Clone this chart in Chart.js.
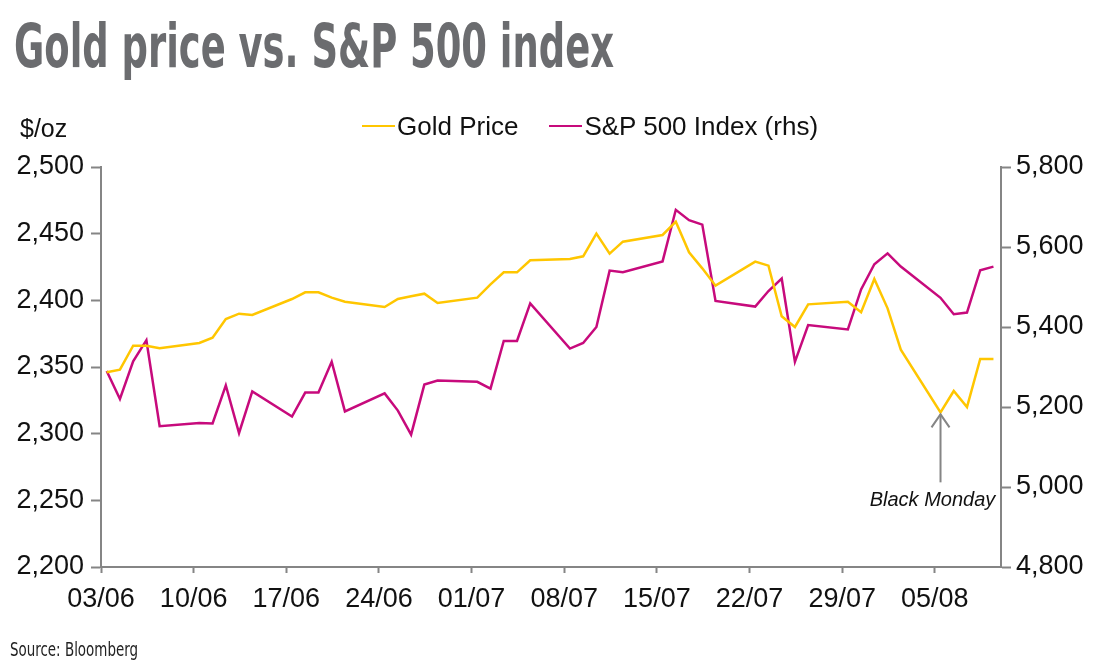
<!DOCTYPE html>
<html>
<head>
<meta charset="utf-8">
<title>Gold price vs. S&amp;P 500 index</title>
<script src="https://cdn.jsdelivr.net/npm/chart.js@4.4.1/dist/chart.umd.min.js"></script>
<style>
  html, body { margin: 0; padding: 0; background: #fff; }
  #wrap { position: relative; width: 1100px; height: 666px; overflow: hidden; }
  #chart { position: absolute; left: 0; top: 0; }
  .txt { position: absolute; white-space: nowrap; line-height: 1; transform-origin: 0 0; }
  #title { left: 14px; top: 11px; font: bold 60px "Liberation Sans Narrow", "DejaVu Sans Condensed", sans-serif; color: #6b6c6f; }
  #unit { left: 20px; top: 114px; font: 25px "Liberation Sans", Arial, sans-serif; color: #111; }
  #source { left: 10px; top: 638px; font: 19px "Liberation Sans Narrow", "DejaVu Sans Condensed", sans-serif; color: #222; }
  #legend { position: absolute; left: 362px; top: 113px; display: flex; font: 26px "Liberation Sans", Arial, sans-serif; line-height: 1; color: #111; }
  #legend .item { display: flex; align-items: center; margin-right: 31px; }
  #legend .swatch { width: 33px; height: 2.5px; margin-right: 2px; }
</style>
</head>
<body>
<div id="wrap">
  <canvas id="chart" width="1100" height="666"></canvas>
  <div id="title" class="txt">Gold price vs. S&amp;P 500 index</div>
  <div id="unit" class="txt">$/oz</div>
  <div id="legend"></div>
  <div id="source" class="txt">Source: Bloomberg</div>
</div>
<script>
// trading days, dd/mm (2024)
const DATES = [
  '03/06', '04/06', '05/06', '06/06', '07/06', '10/06', '11/06', '12/06', '13/06', '14/06',
  '17/06', '18/06', '19/06', '20/06', '21/06', '24/06', '25/06', '26/06', '27/06', '28/06',
  '01/07', '02/07', '03/07', '04/07', '05/07', '08/07', '09/07', '10/07', '11/07', '12/07',
  '15/07', '16/07', '17/07', '18/07', '19/07', '22/07', '23/07', '24/07', '25/07', '26/07',
  '29/07', '30/07', '31/07', '01/08', '02/08', '05/08', '06/08', '07/08', '08/08', '09/08'
];

const GOLD = [
  2346, 2348, 2366, 2366, 2364, 2368, 2372, 2386, 2390, 2389,
  2401, 2406, 2406, 2402, 2399, 2395, 2401, 2403, 2405, 2398,
  2402, 2412, 2421, 2421, 2430, 2431, 2433, 2450, 2435, 2444,
  2449, 2459, 2436, 2424, 2411, 2429, 2426, 2388, 2380, 2397,
  2399, 2391, 2416, 2394, 2363, 2316, 2332, 2320, 2356, 2356
];

const SPX = [
  5290, 5220, 5314, 5367, 5152, 5160, 5159, 5254, 5135, 5239,
  5176, 5236, 5236, 5313, 5189, 5234, 5191, 5131, 5256, 5266,
  5263, 5246, 5365, 5365, 5459, 5346, 5360, 5400, 5541, 5537,
  5564, 5693, 5667, 5656, 5465, 5451, 5490, 5521, 5313, 5405,
  5394, 5494, 5557, 5584, 5551, 5473, 5432, 5436, 5542, 5551
];

const X_TICKS = ['03/06', '10/06', '17/06', '24/06', '01/07', '08/07', '15/07', '22/07', '29/07', '05/08'];
const X_END = '10/08';

const NOTE_DATE = '05/08';
const NOTE_TEXT = 'Black Monday';

// points sit a little after their date tick in the source chart
const POINT_SHIFT = 0.43;

const GOLD_COLOR = '#FFC600';
const SPX_COLOR = '#C70A7C';
const AXIS_GREY = '#858585';
const TEXT = '#111';
const FONT = { family: '"Liberation Sans", Arial, sans-serif', size: 27 };

function dayIndex(s) {
  const [d, m] = s.split('/').map(Number);
  return (Date.UTC(2024, m - 1, d) - Date.UTC(2024, 5, 3)) / 864e5;
}

function axisLines(tickLength) {
  return {
    border: { display: true, color: AXIS_GREY, width: 2 },
    grid: { display: true, drawOnChartArea: false, drawTicks: true, tickLength, tickColor: AXIS_GREY, tickWidth: 2 }
  };
}

const blackMonday = {
  id: 'blackMonday',
  afterDatasetsDraw(chart) {
    const { ctx } = chart;
    const i = DATES.indexOf(NOTE_DATE);
    const px = chart.scales.x.getPixelForValue(dayIndex(NOTE_DATE) + POINT_SHIFT);
    const tip = chart.scales.yGold.getPixelForValue(GOLD[i]) + 2;
    const tail = tip + 68;
    ctx.save();
    ctx.strokeStyle = AXIS_GREY;
    ctx.lineWidth = 2;
    ctx.beginPath();
    ctx.moveTo(px, tail);
    ctx.lineTo(px, tip);
    ctx.stroke();
    ctx.beginPath();
    ctx.moveTo(px - 9, tip + 13);
    ctx.lineTo(px, tip);
    ctx.lineTo(px + 9, tip + 13);
    ctx.stroke();
    ctx.fillStyle = TEXT;
    ctx.font = 'italic 20px "Liberation Sans", Arial, sans-serif';
    ctx.textAlign = 'center';
    ctx.textBaseline = 'alphabetic';
    ctx.fillText(NOTE_TEXT, px - 8, tail + 24);
    ctx.restore();
  }
};

const chart = new Chart(document.getElementById('chart'), {
  type: 'line',
  data: {
    datasets: [
      {
        label: 'Gold Price',
        data: DATES.map((d, i) => ({ x: dayIndex(d) + POINT_SHIFT, y: GOLD[i] })),
        yAxisID: 'yGold',
        borderColor: GOLD_COLOR,
        backgroundColor: GOLD_COLOR,
        borderWidth: 2.5,
        pointRadius: 0,
        tension: 0
      },
      {
        label: 'S&P 500 Index (rhs)',
        data: DATES.map((d, i) => ({ x: dayIndex(d) + POINT_SHIFT, y: SPX[i] })),
        yAxisID: 'ySpx',
        borderColor: SPX_COLOR,
        backgroundColor: SPX_COLOR,
        borderWidth: 2.5,
        pointRadius: 0,
        tension: 0
      }
    ]
  },
  options: {
    responsive: false,
    animation: false,
    layout: { padding: { top: 167, left: 0, right: 0, bottom: 0 } },
    plugins: { legend: { display: false }, tooltip: { enabled: false } },
    scales: {
      x: {
        type: 'linear',
        min: 0,
        max: dayIndex(X_END),
        ...axisLines(6),
        ticks: {
          font: FONT, color: TEXT, padding: 10, autoSkip: false, maxRotation: 0,
          callback: (v, i) => X_TICKS[i]
        },
        afterBuildTicks: s => { s.ticks = X_TICKS.map(t => ({ value: dayIndex(t) })); },
        afterFit: s => { s.height = 99; }
      },
      yGold: {
        type: 'linear',
        position: 'left',
        min: 2200,
        max: 2500,
        ...axisLines(10),
        ticks: { stepSize: 50, font: FONT, color: TEXT, padding: 7, callback: v => v.toLocaleString('en-US') },
        afterFit: s => { s.width = 101; }
      },
      ySpx: {
        type: 'linear',
        position: 'right',
        min: 4800,
        max: 5800,
        ...axisLines(10),
        ticks: { stepSize: 200, font: FONT, color: TEXT, padding: 5, callback: v => v.toLocaleString('en-US') },
        afterFit: s => { s.width = 99; }
      }
    }
  },
  plugins: [blackMonday]
});

// html legend, line swatch right against the label
const legend = document.getElementById('legend');
chart.data.datasets.forEach(ds => {
  const item = document.createElement('div');
  item.className = 'item';
  const sw = document.createElement('span');
  sw.className = 'swatch';
  sw.style.background = ds.borderColor;
  const label = document.createElement('span');
  label.textContent = ds.label;
  item.appendChild(sw);
  item.appendChild(label);
  legend.appendChild(item);
});

function fitWidth(id, w) {
  const el = document.getElementById(id);
  el.style.transform = `scaleX(${w / el.getBoundingClientRect().width})`;
}
fitWidth('title', 600);
fitWidth('source', 128);
</script>
</body>
</html>
